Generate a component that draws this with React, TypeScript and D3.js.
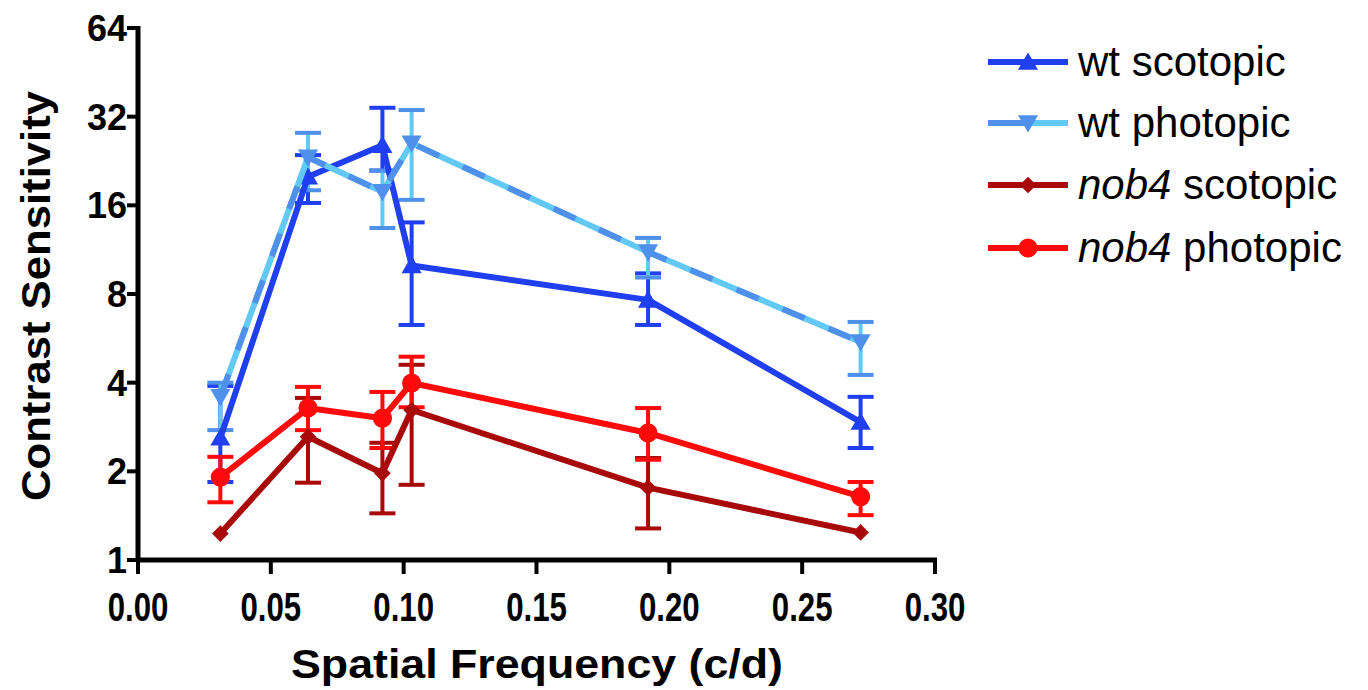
import React from "react";
import * as d3 from "d3";

const freqs = [0.031, 0.064, 0.092, 0.103, 0.192, 0.272];
const xTicks = [0, 0.05, 0.1, 0.15, 0.2, 0.25, 0.3];
const yTicks = [1, 2, 4, 8, 16, 32, 64];

const wtScoto = [2.6, 20, 25.6, 10.0, 7.64, 2.94];
const wtScotoHi = [3.9, 23.7, 34.3, 14, 9.4, 3.58];
const wtScotoLo = [1.84, 16.3, 21, 6.28, 6.28, 2.4];

const wtPhoto = [3.58, 23.3, 17.8, 26, 11.1, 5.5];
const wtPhotoHi = [4.0, 28.2, 21, 33.7, 12.4, 6.43];
const wtPhotoLo = [2.76, 18, 13.4, 16.7, 9.1, 4.25];

const nobScoto = [1.23, 2.62, 1.97, 3.23, 1.76, 1.24];
const nobScotoHi = [1.23, 3.55, 2.5, 4.6, 2.22, 1.24];
const nobScotoLo = [1.23, 1.83, 1.44, 1.8, 1.28, 1.24];

const nobPhoto = [1.91, 3.28, 3.03, 3.99, 2.7, 1.64];
const nobPhotoHi = [2.24, 3.87, 3.72, 4.9, 3.28, 1.84];
const nobPhotoLo = [1.57, 2.76, 2.4, 3.3, 2.19, 1.42];

type Series = {
  key: string;
  italicPart?: string;
  rest: string;
  vals: number[];
  hi: number[];
  lo: number[];
  color: string;
  dash?: string;
  marker: string;
  shape: "up" | "down" | "diamond" | "circle";
};

const series: Series[] = [
  { key: "ws", rest: "wt scotopic", vals: wtScoto, hi: wtScotoHi, lo: wtScotoLo, color: "#1f3ff0", marker: "#1f3ff0", shape: "up" },
  { key: "wp", rest: "wt photopic", vals: wtPhoto, hi: wtPhotoHi, lo: wtPhotoLo, color: "#62c8f4", dash: "#4f90ea", marker: "#4f90ea", shape: "down" },
  { key: "ns", italicPart: "nob4", rest: " scotopic", vals: nobScoto, hi: nobScotoHi, lo: nobScotoLo, color: "#a80a0a", marker: "#a80a0a", shape: "diamond" },
  { key: "np", italicPart: "nob4", rest: " photopic", vals: nobPhoto, hi: nobPhotoHi, lo: nobPhotoLo, color: "#ff0a0a", marker: "#ff0a0a", shape: "circle" },
];

const x = d3.scaleLinear().domain([0, 0.3]).range([138, 935]);
const y = d3.scaleLog().base(2).domain([1, 64]).range([560, 28]);

function markerPath(shape: string) {
  if (shape === "up" || shape === "down") return d3.symbol().type(d3.symbolTriangle).size(175)();
  if (shape === "diamond") return d3.symbol().type(d3.symbolSquare).size(140)();
  return d3.symbol().type(d3.symbolCircle).size(290)();
}
function markerRot(shape: string) {
  if (shape === "down") return 180;
  if (shape === "diamond") return 45;
  return 0;
}
function markerDy(shape: string) {
  return shape === "up" ? 2 : shape === "down" ? -2 : 0;
}

export default function App() {
  const line = d3.line<number>().x((_, i) => x(freqs[i])).y((v) => y(v));
  const capW = 13;
  return (
    <svg width={1368} height={690} style={{ position: "absolute", left: 0, top: 0, background: "#fff" }}>
      {series.map((s) => (
        <g key={s.key + "e"}>
          {s.vals.map((v, i) => {
            if (s.hi[i] === s.lo[i]) return null;
            const cx = x(freqs[i]);
            const c = s.key === "wp" ? "#62c8f4" : s.color;
            const cc = s.key === "wp" ? "#4f90ea" : s.color;
            return (
              <g key={i}>
                <line x1={cx} x2={cx} y1={y(s.hi[i])} y2={y(s.lo[i])} stroke={c} strokeWidth={4} />
                <line x1={cx - capW} x2={cx + capW} y1={y(s.hi[i])} y2={y(s.hi[i])} stroke={cc} strokeWidth={4} />
                <line x1={cx - capW} x2={cx + capW} y1={y(s.lo[i])} y2={y(s.lo[i])} stroke={cc} strokeWidth={4} />
              </g>
            );
          })}
        </g>
      ))}
      {series.map((s) => (
        <g key={s.key}>
          <path d={line(s.vals) || ""} fill="none" stroke={s.color} strokeWidth={6} strokeLinejoin="round" />
          {s.dash && (
            <path d={line(s.vals) || ""} fill="none" stroke={s.dash} strokeWidth={6} strokeDasharray="24,26" />
          )}
          {s.vals.map((v, i) => (
            <path
              key={i}
              d={markerPath(s.shape) || ""}
              transform={`translate(${x(freqs[i])},${y(v) + markerDy(s.shape)}) rotate(${markerRot(s.shape)})`}
              fill={s.marker}
            />
          ))}
        </g>
      ))}
      <g fontFamily="'Liberation Sans', Arial, sans-serif" fontWeight="bold" fill="#000">
        <line x1={138} x2={138} y1={26} y2={562} stroke="#000" strokeWidth={5} />
        <line x1={136} x2={937} y1={560} y2={560} stroke="#000" strokeWidth={5} />
        {yTicks.map((t) => (
          <g key={t}>
            <line x1={127} x2={138} y1={y(t)} y2={y(t)} stroke="#000" strokeWidth={4} />
            <text x={127} y={y(t) + 13} textAnchor="end" fontSize={36}>
              {t}
            </text>
          </g>
        ))}
        {xTicks.map((t) => (
          <g key={t}>
            <line x1={x(t)} x2={x(t)} y1={560} y2={574} stroke="#000" strokeWidth={4} />
            <text
              x={x(t)}
              y={621}
              textAnchor="middle"
              fontSize={40}
              transform={`translate(${x(t)},0) scale(0.78,1) translate(${-x(t)},0)`}
            >
              {t.toFixed(2)}
            </text>
          </g>
        ))}
        <text x={537} y={678} textAnchor="middle" fontSize={40} textLength={492} lengthAdjust="spacingAndGlyphs">
          Spatial Frequency (c/d)
        </text>
        <text
          transform="translate(50,296) rotate(-90)"
          textAnchor="middle"
          fontSize={40}
          textLength={410}
          lengthAdjust="spacingAndGlyphs"
        >
          Contrast Sensitivity
        </text>
      </g>
      <g fontFamily="'Liberation Sans', Arial, sans-serif" fontSize={42} fill="#000">
        {series.map((s, i) => {
          const ly = [62, 123, 185, 248][i];
          return (
            <g key={s.key + "l"}>
              <line x1={988} x2={1068} y1={ly} y2={ly} stroke={s.color} strokeWidth={6} />
              {s.dash && <line x1={988} x2={1028} y1={ly} y2={ly} stroke={s.dash} strokeWidth={6} />}
              <path
                d={markerPath(s.shape) || ""}
                transform={`translate(1028,${ly + markerDy(s.shape)}) rotate(${markerRot(s.shape)})`}
                fill={s.marker}
              />
              <text x={1078} y={ly + 14}>
                {s.italicPart && <tspan fontStyle="italic">{s.italicPart}</tspan>}
                <tspan>{s.rest}</tspan>
              </text>
            </g>
          );
        })}
      </g>
    </svg>
  );
}
